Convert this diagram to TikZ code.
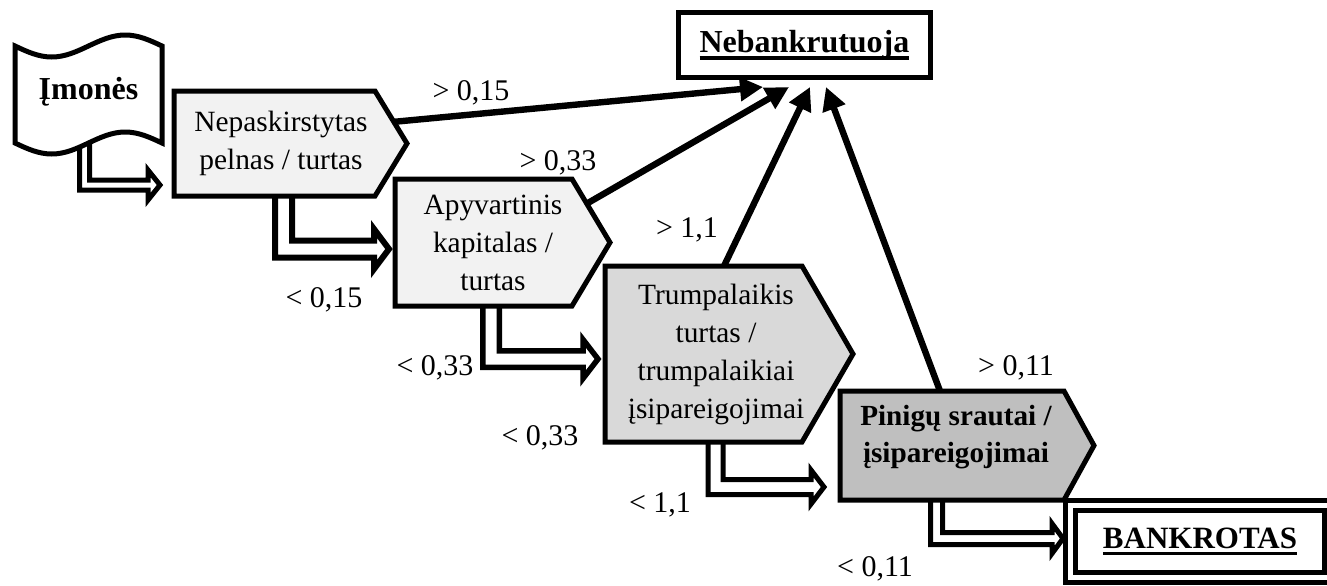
\documentclass[tikz,border=0pt]{standalone}
\usepackage{fontspec}
\setmainfont{Liberation Serif}
\usetikzlibrary{calc,arrows.meta}
\definecolor{paleshade}{HTML}{F2F2F2}
\definecolor{midshade}{HTML}{D9D9D9}
\definecolor{darkshade}{HTML}{BFBFBF}
\pgfdeclarelayer{links}
\pgfdeclarelayer{shapes}
\pgfsetlayers{links,shapes,main}
% underline at a fixed depth, crossing descenders
\newcommand\ulbold[1]{\setbox0\hbox{#1}\rlap{\rule[-3.6pt]{\wd0}{1.7pt}}\box0}
% bent block arrow with white core: start, tip, half shaft, half head, head length, stroke
\newcommand\bentarrow[6]{%
  \draw[line width=#6, fill=white, line join=miter]
    ($(#1)+(-#3,0)$) -- ($(#1 |- #2)+(-#3,#3)$) -- ($(#2)+(-#5,#3)$)
    -- ($(#2)+(-#5,#4)$) -- (#2) -- ($(#2)+(-#5,-#4)$) -- ($(#2)+(-#5,-#3)$)
    -- ($(#1 |- #2)+(#3,-#3)$) -- ($(#1)+(#3,0)$) -- cycle;}
\begin{document}
\begin{tikzpicture}[x=0.5pt,y=-0.5pt,
  every node/.style={inner sep=0pt,outer sep=0pt},
  boxline/.style={line width=2.5pt,line join=miter},
  boxtext/.style={align=center,font=\fontsize{14.7pt}{19pt}\selectfont},
  titletext/.style={font=\bfseries\fontsize{16pt}{19pt}\selectfont},
  goal/.style={draw,line width=2.5pt,fill=white},
  lbl/.style={anchor=base,font=\fontsize{15pt}{18pt}\selectfont},
  push/.style={line width=3.2pt,-{Triangle[length=11.5pt,width=11.5pt]}}]
\useasboundingbox (0,0) rectangle (1327,585);

% nodes carrying the texts
\node[titletext,minimum width=73.5pt,minimum height=48.5pt] (imones) at (88.5,92) {Įmonės};
\node[boxtext,anchor=north west,minimum width=107pt,minimum height=52.5pt] (n1) at (174,91)
  {Nepaskirstytas\\pelnas / turtas};
\node[boxtext,anchor=north west,minimum width=98pt,minimum height=63.5pt] (n2) at (395,179)
  {Apyvartinis\\kapitalas /\\turtas};
\node[boxtext,anchor=north west,minimum width=111pt,minimum height=88pt] (n3) at (605,266)
  {Trumpalaikis\\turtas /\\trumpalaikiai\\įsipareigojimai};
\node[boxtext,font=\bfseries\fontsize{14.6pt}{18.5pt}\selectfont,minimum width=116pt,minimum height=46pt] (n4) at (956,437)
  {Pinigų srautai /\\įsipareigojimai};
\node[goal,minimum width=126pt,minimum height=32.5pt,font=\bfseries\fontsize{16pt}{19pt}\selectfont] (neb) at (804.5,45)
  {\ulbold{Nebankrutuoja}};
\node[goal,double=white,double distance=2.5pt,minimum width=129.5pt,minimum height=36pt,
  font=\bfseries\fontsize{15.5pt}{19pt}\selectfont] (bank) at (1200,541.5) {\ulbold{BANKROTAS}};

% ends of the bent arrows
\coordinate (aS) at ($(imones.center)+(-4,40)$);
\coordinate (aE) at ($(n1.west)+(-14,41.5)$);
\coordinate (bS) at ($(n1.south)+(2.5,-6)$);
\coordinate (bE) at ($(n2.west)+(-6,6.5)$);
\coordinate (cS) at ($(n2.south)+(-2,-6)$);
\coordinate (cE) at ($(n3.west)+(-7,5)$);
\coordinate (dS) at ($(n3.south)+(-0.5,-6)$);
\coordinate (dE) at ($(n4.west)+(-16,50)$);
\coordinate (eS) at ($(n4.south)+(-19.5,11)$);
\coordinate (eE) at ($(bank.west)+(-7.5,-3)$);

\begin{pgfonlayer}{links}
  \draw[push] ($(n1.west)+(218,-21.5)$) -- ($(neb.south)+(-41.5,9.5)$);
  \draw[push] ($(n2.west)+(192,-39)$) -- ($(neb.south)+(-15.5,9.5)$);
  \draw[push] ($(n3.north)+(8,0)$) -- ($(neb.south)+(5.5,9.5)$);
  \draw[push] ($(n4.north)+(-16,0)$) -- ($(neb.south)+(21.5,9.5)$);
  \bentarrow{aS}{aE}{5}{15}{12}{2.5pt}
  \bentarrow{bS}{bE}{8.5}{20}{15}{3pt}
  \bentarrow{cS}{cE}{8.25}{19.5}{15}{2.75pt}
  \bentarrow{dS}{dE}{7.5}{17}{13}{2.5pt}
  \bentarrow{eS}{eE}{6}{15}{11}{2.5pt}
\end{pgfonlayer}

\begin{pgfonlayer}{shapes}
  % punched-tape outline round the source
  \draw[boxline,fill=white,shift={(imones.center)}]
    (-73.5,-46) sin (-36.75,-35) cos (0,-46) sin (36.75,-57) cos (73.5,-46)
    -- (73.5,51) sin (36.75,40) cos (0,51) sin (-36.75,62) cos (-73.5,51) -- cycle;
  % pentagon steps
  \draw[boxline,fill=paleshade] (n1.north west) -- ($(n1.north west)+(201,0)$)
    -- ($(n1.west)+(233,0)$) -- ($(n1.south west)+(201,0)$) -- (n1.south west) -- cycle;
  \draw[boxline,fill=paleshade] (n2.north west) -- ($(n2.north west)+(177,0)$)
    -- ($(n2.west)+(215,0)$) -- ($(n2.south west)+(177,0)$) -- (n2.south west) -- cycle;
  \draw[boxline,fill=midshade] (n3.north west) -- ($(n3.north west)+(197,0)$)
    -- ($(n3.west)+(248,0)$) -- ($(n3.south west)+(197,0)$) -- (n3.south west) -- cycle;
  \draw[boxline,fill=darkshade] (n4.north west) -- ($(n4.north west)+(224,0)$)
    -- ($(n4.west)+(254,8.5)$) -- ($(n4.south west)+(224,17)$) -- ($(n4.south west)+(0,17)$) -- cycle;
\end{pgfonlayer}

% thresholds
\node[lbl] (g1) at (471,100) {> 0,15};
\node[lbl] (g2) at (558,170) {> 0,33};
\node[lbl] (g3) at (687,237) {> 1,1};
\node[lbl] (g4) at (1016,375) {> 0,11};
\node[lbl] (s1) at (324,307) {< 0,15};
\node[lbl] (s2) at (435,375) {< 0,33};
\node[lbl] (s3) at (540,445) {< 0,33};
\node[lbl] (s4) at (660,512) {< 1,1};
\node[lbl] (s5) at (875,576) {< 0,11};
\end{tikzpicture}
\end{document}
